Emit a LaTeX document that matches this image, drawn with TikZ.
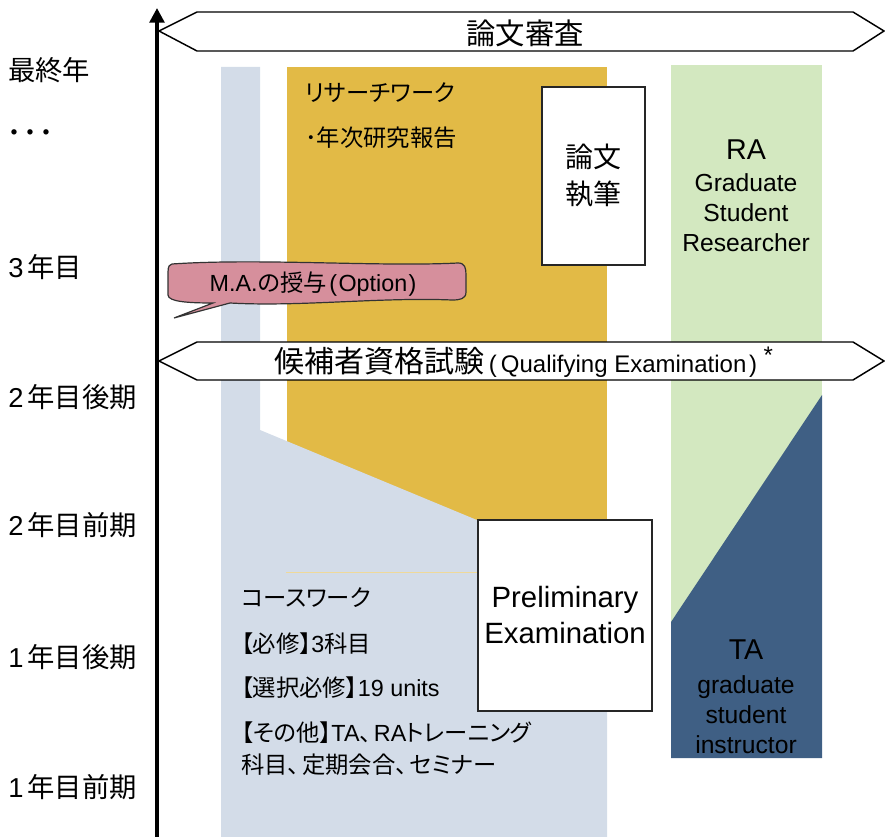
\documentclass[tikz,border=0pt]{standalone}
\usepackage{fontspec}
\setmainfont{Liberation Sans}
\newfontfamily\J{Noto Sans CJK JP}
\newfontfamily\Jp[RawFeature=+palt]{Noto Sans CJK JP}
\usetikzlibrary{arrows.meta}
\definecolor{colblue}{HTML}{D3DCE8}
\definecolor{colyel}{HTML}{E2BA46}
\definecolor{colgreen}{HTML}{D3E8C0}
\definecolor{coldark}{HTML}{3F5F84}
\definecolor{colpink}{HTML}{D68F9C}
\newcommand\digsp{\hspace{3pt}}
\begin{document}
\begin{tikzpicture}[x=0.75pt,y=-0.75pt,
  yearlbl/.style={anchor=west, font=\fontsize{20.5}{24}\selectfont, inner sep=0pt},
  band/.style={draw=black, fill=white, line width=1.1pt},
  wbox/.style={draw=black!85, fill=white, line width=1pt, align=center, inner sep=0pt},
  bodytxt/.style={anchor=west, font=\fontsize{17.5}{20}\selectfont, inner sep=0pt},
  roletxt/.style={align=center, font=\fontsize{18.5}{22.5}\selectfont, inner sep=0pt},
  roletitle/.style={font=\fontsize{21.5}{24}\selectfont, inner sep=0pt},
  ]
\useasboundingbox (0,0) rectangle (885,837);
% columns
\fill[colyel] (287,67) rectangle (607,520);
\fill[colblue] (221,67) -- (260,67) -- (260,430) -- (607,574) -- (607,837) -- (221,837) -- cycle;
\draw[colyel!55!white, line width=0.4pt] (286,572) -- (478,572);
\fill[colgreen] (671,65) rectangle (822,622);
\fill[coldark] (671,622) -- (822,395) -- (822,758) -- (671,758) -- cycle;
% axis
\coordinate (axisbot) at (157,837);
\coordinate (axistop) at (157,8);
\draw[line width=2.6pt, -{Triangle[length=11pt,width=11pt]}] (axisbot) -- (axistop);
% year labels
\node[yearlbl] (y1) at (8,70) {\J 最終年};
\node[yearlbl, font=\fontsize{24}{24}\selectfont] (y2) at (6,137) {\J ･･･};
\node[yearlbl] (y3) at (8,267) {3\digsp{\J 年目}};
\node[yearlbl] (y4) at (8,397) {2\digsp{\J 年目後期}};
\node[yearlbl] (y5) at (8,525) {2\digsp{\J 年目前期}};
\node[yearlbl] (y6) at (8,657) {1\digsp{\J 年目後期}};
\node[yearlbl] (y7) at (8,787) {1\digsp{\J 年目前期}};
% bands
\draw[band] (159,31) -- (197,12) -- (853,12) -- (884,31) -- (853,51) -- (197,51) -- cycle;
\node[font=\fontsize{22}{26}\selectfont] (review) at (525,33) {\J 論文審査};
\draw[band] (159,361) -- (197,342) -- (853,342) -- (884,361) -- (853,380) -- (197,380) -- cycle;
\node[font=\fontsize{18}{22}\selectfont, inner sep=0pt] (qual) at (524,362) {{\J\fontsize{22.5}{26}\selectfont 候補者資格試験}\hspace{3pt}(\hspace{3pt}Qualifying Examination\hspace{2pt})\hspace{5pt}\raisebox{0.35em}{*}};
% callout
\draw[fill=colpink, draw=black!80, line width=0.9pt]
  (172,264) .. controls (260,258) and (380,267) .. (458,263)
  .. controls (465,263) and (466,268) .. (466,275) -- (466,292)
  .. controls (466,299) and (460,300) .. (452,300)
  .. controls (380,297) and (300,307) .. (230,303)
  -- (174,318) -- (213,303)
  .. controls (190,303) and (168,302) .. (168,295) -- (168,272)
  .. controls (168,266) and (170,264) .. (172,264) -- cycle;
\node[font=\fontsize{17.5}{20}\selectfont, inner sep=0pt] (ma) at (313,284) {M.A.{\Jp の授与}\hspace{2pt}(\hspace{1pt}Option\hspace{1pt})};
% research work texts
\node[bodytxt] (rw1) at (305,93) {\Jp リサーチワーク};
\node[bodytxt] (rw2) at (305,138) {\Jp ･年次研究報告};
% thesis writing box
\node[wbox, minimum width=77.25pt, minimum height=133.5pt, font=\fontsize{21}{27.75}\selectfont] (write) at (593.5,176) {\J 論文\\\J 執筆};
% preliminary box
\node[wbox, minimum width=130.5pt, minimum height=143.25pt, font=\fontsize{22}{27}\selectfont] (prelim) at (565,615.5) {Preliminary\\Examination};
% coursework texts
\node[bodytxt] (cw1) at (241,598) {\Jp コースワーク};
\node[bodytxt] (cw2) at (241,644) {{\Jp 【必修】}3{\Jp 科目}};
\node[bodytxt] (cw3) at (241,688) {{\Jp 【選択必修】}19 units};
\node[bodytxt] (cw4) at (241,733) {{\Jp 【その他】}TA{\Jp 、}\hspace{2pt}RA{\Jp トレーニング}};
\node[bodytxt] (cw5) at (241,765) {\Jp 科目、\hspace{2pt}定期会合、\hspace{2pt}セミナー};
% RA
\node[roletitle] (ra) at (746,150) {RA};
\node[roletxt] (radesc) at (746,212.5) {Graduate\\Student\\Researcher};
% TA
\node[roletitle] (ta) at (746,650) {TA};
\node[roletxt] (tadesc) at (746,715) {graduate\\student\\instructor};
\end{tikzpicture}
\end{document}
